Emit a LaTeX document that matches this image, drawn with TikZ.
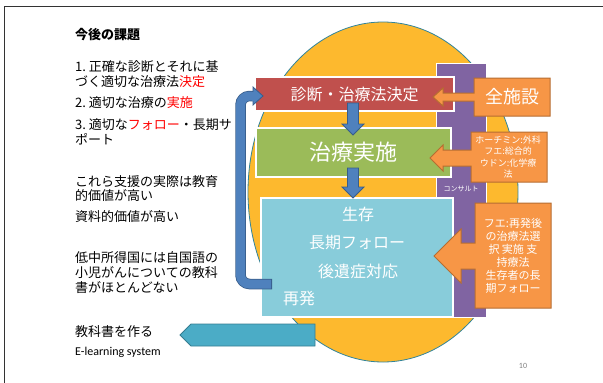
\documentclass[tikz,border=0pt]{standalone}
\usepackage{fontspec}
\usetikzlibrary{shapes.geometric}
\setmainfont{Noto Sans CJK JP}
\newfontfamily\lat{Carlito}
\definecolor{ellfill}{HTML}{FDB92E}
\definecolor{ellline}{HTML}{31849B}
\definecolor{purp}{HTML}{8064A2}
\definecolor{redbox}{HTML}{C0504D}
\definecolor{greenbox}{HTML}{9BBB59}
\definecolor{cyanbox}{HTML}{88CCDA}
\definecolor{bluear}{HTML}{4F81BD}
\definecolor{bluedark}{HTML}{385D8A}
\definecolor{orfill}{HTML}{F79646}
\definecolor{orline}{HTML}{B66D31}
\definecolor{tealar}{HTML}{4BACC6}
\definecolor{tealline}{HTML}{357D91}
\definecolor{hl}{HTML}{FF0000}
\tikzset{
  box/.style={draw=white, line width=1.2pt, inner sep=0pt, text=white},
  lefttxt/.style={anchor=west, inner sep=0pt, font=\fontsize{13}{15}\selectfont},
  calltxt/.style={text=white, inner sep=0pt, align=center},
  blockarrow/.style={fill=bluear, draw=bluedark, line width=0.8pt},
  callout/.style={fill=orfill, draw=orline, line width=1pt},
}
\begin{document}
\begin{tikzpicture}[x=1pt,y=-1pt]
\useasboundingbox (0,0) rectangle (603,383);
% slide frame
\draw[line width=1pt, black!80] (4,383) -- (4,6) -- (603,6);
% ellipse
\node[ellipse, draw=ellline, fill=ellfill, line width=0.8pt, minimum width=270pt, minimum height=340pt, inner sep=0pt] (ell) at (383,192) {};
% purple bar
\node[fill=purp, draw=white, line width=0.8pt, minimum width=50pt, minimum height=254pt, inner sep=0pt] (purp) at (461,190) {};
\node[text=white, inner sep=0pt, font=\fontsize{7}{8}\selectfont] (consult) at (461,189) {コンサルト};
% boxes
\node[box, fill=redbox, minimum width=199pt, minimum height=34pt, font=\fontsize{16}{18}\selectfont] (red) at (354.5,94) {診断・治療法決定};
\node[box, fill=greenbox, minimum width=195pt, minimum height=49pt, font=\fontsize{22}{24}\selectfont] (green) at (353.5,152.5) {治療実施};
\node[box, fill=cyanbox, minimum width=192pt, minimum height=119pt] (cyan) at (357,257.5) {};
\node[text=white, inner sep=0pt, font=\fontsize{16}{18}\selectfont] (t1) at (358,214) {生存};
\node[text=white, inner sep=0pt, font=\fontsize{16}{18}\selectfont] (t2) at (357,243) {長期フォロー};
\node[text=white, inner sep=0pt, font=\fontsize{16}{18}\selectfont] (t3) at (358,271) {後遺症対応};
\node[text=white, inner sep=0pt, font=\fontsize{16}{18}\selectfont] (t4) at (299,298) {再発};
% down arrows
\coordinate (a1) at (353,103);
\coordinate (a2) at (353,168);
\draw[blockarrow] ([xshift=-5.5pt]a1) -- ++(0,21) -- ++(-5.5,0) -- ++(11,11) -- ++(11,-11) -- ++(-5.5,0) -- ++(0,-21) -- cycle;
\draw[blockarrow] ([xshift=-5.5pt]a2) -- ++(0,19) -- ++(-5.5,0) -- ++(11,11) -- ++(11,-11) -- ++(-5.5,0) -- ++(0,-19) -- cycle;
% callouts
\draw[callout] (550,78) -- (474,78) -- (474,93) -- (443,93) -- (443,88) -- (433,97) -- (443,106) -- (443,101) -- (474,101) -- (474,116) -- (550,116) -- cycle;
\node[calltxt, font=\fontsize{18}{20}\selectfont] (c1) at (512,97) {全施設};
\draw[callout] (547,132) -- (471,132) -- (471,150) -- (443,150) -- (443,145) -- (430,158) -- (443,171) -- (443,166) -- (471,166) -- (471,182) -- (547,182) -- cycle;
\node[calltxt, font=\fontsize{9}{11.3}\selectfont] (c2) at (508,157) {ホーチミン:外科\\フエ:総合的\\ウドン:化学療\\法};
\draw[callout] (551,203) -- (475,203) -- (475,243) -- (461,243) -- (461,229) -- (434,256) -- (461,283) -- (461,269) -- (475,269) -- (475,308) -- (551,308) -- cycle;
\node[calltxt, font=\fontsize{11}{13}\selectfont] (c3) at (513,256) {フエ:再発後\\の治療法選\\択\ 実施\ 支\\持療法\\生存者の長\\期フォロー};
% U arrow
\coordinate (ustart) at (272,284);
\coordinate (uend) at (254,96);
\draw[bluedark, line width=10.5pt, rounded corners=9pt] (ustart) -- (240.5,284) -- (240.5,96) -- (uend);
\draw[bluear, line width=9pt, rounded corners=9pt] ([xshift=-0.8pt]ustart) -- (240.5,284) -- (240.5,96) -- ([xshift=0.8pt]uend);
\draw[blockarrow] (253,87) -- (263,96) -- (253,105) -- cycle;
\fill[bluear] (252,91.5) rectangle (254.5,100.5);
% teal arrow
\draw[fill=tealar, draw=tealline, line width=0.8pt] (315,324) -- (191,324) -- (180,335) -- (191,346) -- (315,346) -- cycle;
\node[inner sep=0pt] (teal) at (250,335) {};
% left texts
\node[lefttxt, font=\fontsize{13}{15}\selectfont\bfseries] (title) at (75,35) {今後の課題};
\node[lefttxt] (l1) at (75,67) {1.\ 正確な診断とそれに基};
\node[lefttxt] (l2) at (75,82) {づく適切な治療法\textcolor{hl}{決定}};
\node[lefttxt] (l3) at (75,103) {2.\ 適切な治療の\textcolor{hl}{実施}};
\node[lefttxt] (l4) at (75,125) {3.\ 適切な\textcolor{hl}{フォロー}・長期サ};
\node[lefttxt] (l5) at (75,139) {ポート};
\node[lefttxt] (l6) at (75,182) {これら支援の実際は教育};
\node[lefttxt] (l7) at (75,196) {的価値が高い};
\node[lefttxt] (l8) at (75,217) {資料的価値が高い};
\node[lefttxt] (l9) at (75,258) {低中所得国には自国語の};
\node[lefttxt] (l10) at (75,273) {小児がんについての教科};
\node[lefttxt] (l11) at (75,288) {書がほとんどない};
\node[lefttxt] (l12) at (75,332) {教科書を作る};
\node[lefttxt, font=\fontsize{12}{14}\selectfont\lat] (l13) at (75,352) {E-learning system};
\node[inner sep=0pt, text=black!50, font=\fontsize{8}{9}\selectfont\lat] (pg) at (523,366) {10};
\end{tikzpicture}
\end{document}
